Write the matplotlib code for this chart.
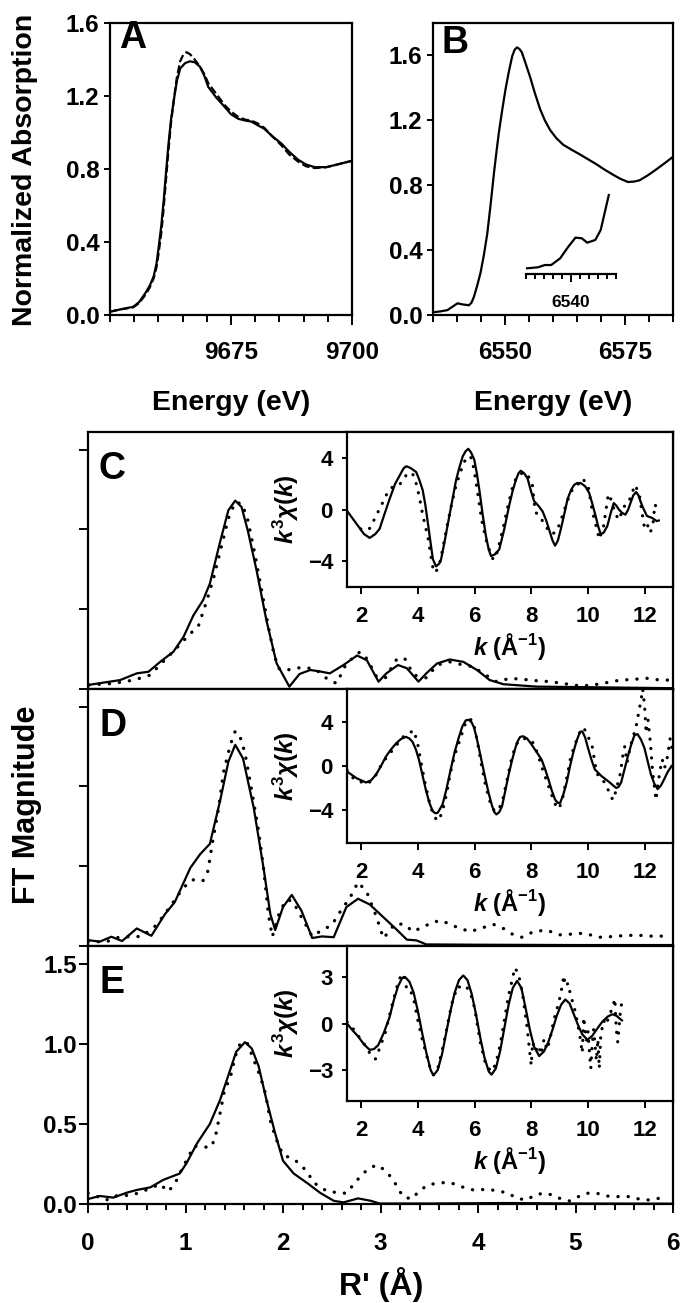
import matplotlib
matplotlib.use("Agg")
import matplotlib.pyplot as plt
from matplotlib.ticker import MultipleLocator, FormatStrFormatter, NullFormatter
import numpy as np

plt.rcParams['font.family'] = ['Liberation Sans', 'DejaVu Sans']
plt.rcParams['font.weight'] = 'bold'
plt.rcParams['mathtext.fontset'] = 'custom'
plt.rcParams['mathtext.rm'] = 'Liberation Sans:bold'
plt.rcParams['mathtext.it'] = 'Liberation Sans:italic:bold'
plt.rcParams['mathtext.bf'] = 'Liberation Sans:bold'

# ---------------- Panel A : XANES (9650-9700 eV) ----------------
a_energy = [9650, 9652, 9654.8, 9656, 9657.3, 9658.2, 9659.0, 9659.6, 9660.0, 9660.6,
            9661.1, 9661.6, 9662.1, 9662.6, 9663.2, 9663.8, 9664.5, 9665.5, 9666.5, 9667.5,
            9668.6, 9669.5, 9670.3, 9672, 9673.7, 9675, 9676.5, 9678, 9679.2, 9680.5,
            9681.9, 9683.5, 9685.4, 9687, 9688.9, 9690.5, 9692.3, 9694.7, 9697, 9700]
a_solid = [0.018, 0.03, 0.045, 0.07, 0.12, 0.16, 0.21, 0.28, 0.36, 0.49,
           0.63, 0.79, 0.94, 1.07, 1.18, 1.28, 1.35, 1.38, 1.39, 1.385,
           1.36, 1.31, 1.25, 1.19, 1.14, 1.10, 1.075, 1.065, 1.06, 1.04,
           1.02, 0.98, 0.94, 0.895, 0.85, 0.825, 0.81, 0.81, 0.825, 0.845]
a_energy_d = [9650, 9652, 9654.8, 9656, 9657.3, 9658.2, 9659.0, 9659.6, 9660.0, 9660.6,
              9661.1, 9661.6, 9662.1, 9662.6, 9663.2, 9663.8, 9664.5, 9665.2, 9665.8, 9666.5,
              9667.5, 9668.6, 9669.5, 9670.3, 9672, 9673.7, 9675, 9676.5, 9678, 9679.2,
              9680.5, 9681.9, 9683.5, 9685.4, 9687, 9688.9, 9690.5, 9692.3, 9694.7, 9697, 9700]
a_dashed = [0.018, 0.03, 0.042, 0.065, 0.11, 0.15, 0.20, 0.26, 0.33, 0.45,
            0.59, 0.75, 0.91, 1.05, 1.18, 1.30, 1.39, 1.43, 1.44, 1.43,
            1.40, 1.36, 1.32, 1.27, 1.21, 1.15, 1.115, 1.085, 1.07, 1.065,
            1.05, 1.025, 0.98, 0.93, 0.88, 0.84, 0.815, 0.805, 0.81, 0.825, 0.845]

# ---------------- Panel B : XANES (6535-6585 eV) ----------------
b_energy = [6535, 6536.5, 6538.0, 6539.0, 6540.1, 6541.2, 6542.5, 6543.0, 6543.5, 6544.2,
            6544.9, 6545.6, 6546.3, 6547.0, 6547.7, 6548.2, 6548.7, 6549.4, 6550.1, 6550.8,
            6551.5, 6552.0, 6552.5, 6553.0, 6553.5, 6554.3, 6555.2, 6556.2, 6557.3, 6558.3,
            6559.4, 6560.7, 6562.1, 6563.8, 6565.6, 6567.3, 6569.0, 6570.8, 6572.5, 6574,
            6575.6, 6576.8, 6578.0, 6579.7, 6581.4, 6583, 6585]
b_abs = [0.017, 0.022, 0.03, 0.05, 0.072, 0.065, 0.06, 0.075, 0.11, 0.18,
         0.26, 0.37, 0.50, 0.68, 0.875, 1.0, 1.12, 1.26, 1.39, 1.50,
         1.595, 1.635, 1.65, 1.64, 1.62, 1.55, 1.47, 1.37, 1.27, 1.20,
         1.14, 1.09, 1.05, 1.02, 0.99, 0.96, 0.93, 0.895, 0.865, 0.84,
         0.82, 0.822, 0.83, 0.86, 0.895, 0.93, 0.975]
# pre-edge inset (scaled)
b_pre_energy = [6535.0, 6536.3, 6537.1, 6537.8, 6538.8, 6539.7, 6540.5, 6541.2, 6541.8,
                6542.7, 6543.3, 6543.6, 6544.2]
b_pre_abs = [0.067, 0.079, 0.107, 0.107, 0.187, 0.325, 0.433, 0.425, 0.373,
             0.405, 0.524, 0.663, 0.94]

# ---------------- FT panels C, D, E ----------------
c_r = [0.0, 0.33, 0.50, 0.62, 0.74, 0.875, 0.98, 1.08, 1.18, 1.25, 1.35, 1.44, 1.51, 1.575,
       1.64, 1.73, 1.83, 1.935, 2.065, 2.17, 2.28, 2.38, 2.48, 2.62, 2.76, 2.86, 2.98, 3.06,
       3.18, 3.27, 3.39, 3.47, 3.58, 3.71, 3.85, 3.99, 4.12, 4.26, 4.6, 5.3, 6.0]
c_ft = [0.025, 0.056, 0.098, 0.108, 0.17, 0.233, 0.327, 0.46, 0.556, 0.66, 0.91, 1.12, 1.18, 1.14,
        0.99, 0.74, 0.43, 0.16, 0.015, 0.094, 0.119, 0.11, 0.098, 0.15, 0.21, 0.18, 0.046, 0.098,
        0.15, 0.13, 0.046, 0.098, 0.16, 0.185, 0.17, 0.119, 0.056, 0.03, 0.015, 0.01, 0.005]
c_r_fit = [0.01, 0.26, 0.47, 0.64, 0.72, 0.89, 1.05, 1.13, 1.22, 1.29, 1.355, 1.44, 1.51, 1.58,
           1.64, 1.71, 1.78, 1.85, 1.90, 1.95, 2.02, 2.12, 2.21, 2.33, 2.46, 2.55, 2.65, 2.79,
           2.86, 2.96, 3.05, 3.17, 3.25, 3.34, 3.47, 3.58, 3.71, 3.85, 3.95, 4.05, 4.19, 4.33,
           4.47, 4.60, 4.74, 4.87, 5.05, 5.18, 5.32, 5.46, 5.59, 5.73, 5.87, 5.99]
c_ft_fit = [0.025, 0.035, 0.056, 0.0875, 0.14, 0.244, 0.348, 0.39, 0.556, 0.70, 0.86, 1.07, 1.17, 1.16,
            1.056, 0.85, 0.62, 0.39, 0.24, 0.13, 0.115, 0.13, 0.135, 0.125, 0.06, 0.035, 0.16, 0.233,
            0.19, 0.077, 0.07, 0.19, 0.19, 0.0875, 0.07, 0.15, 0.17, 0.15, 0.14, 0.098, 0.046, 0.067,
            0.06, 0.052, 0.046, 0.035, 0.019, 0.025, 0.04, 0.056, 0.06, 0.067, 0.056, 0.056]

d_r = [0.0, 0.12, 0.24, 0.35, 0.50, 0.65, 0.79, 0.89, 1.05, 1.15, 1.25, 1.355, 1.44, 1.51,
       1.59, 1.70, 1.80, 1.87, 1.92, 2.00, 2.09, 2.19, 2.30, 2.40, 2.52, 2.65, 2.77, 2.89,
       3.03, 3.17, 3.27, 3.37, 3.47, 4.0, 5.0, 6.0]
d_ft = [0.037, 0.027, 0.058, 0.031, 0.11, 0.064, 0.20, 0.275, 0.49, 0.575, 0.64, 0.91, 1.155, 1.26,
        1.175, 0.865, 0.49, 0.20, 0.10, 0.244, 0.32, 0.22, 0.05, 0.06, 0.055, 0.244, 0.296, 0.26,
        0.18, 0.10, 0.04, 0.035, 0.01, 0.008, 0.006, 0.006]
d_r_fit = [0.0, 0.19, 0.33, 0.45, 0.55, 0.70, 0.84, 0.96, 1.05, 1.12, 1.18, 1.23, 1.28, 1.34,
           1.39, 1.46, 1.51, 1.56, 1.61, 1.68, 1.75, 1.80, 1.85, 1.89, 1.97, 2.04, 2.10, 2.19,
           2.30, 2.40, 2.50, 2.57, 2.69, 2.77, 2.86, 2.96, 3.03, 3.15, 3.25, 3.33, 3.44, 3.54,
           3.63, 3.71, 3.82, 3.92, 4.05, 4.16, 4.26, 4.35, 4.45, 4.57, 4.70, 4.84, 4.98, 5.08,
           5.25, 5.35, 5.49, 5.63, 5.76, 5.97]
d_ft_fit = [0.027, 0.027, 0.058, 0.058, 0.06, 0.13, 0.244, 0.35, 0.41, 0.42, 0.41, 0.47, 0.66, 0.865,
            1.09, 1.26, 1.346, 1.31, 1.21, 0.97, 0.72, 0.49, 0.20, 0.058, 0.224, 0.29, 0.28, 0.18,
            0.06, 0.10, 0.13, 0.20, 0.306, 0.40, 0.337, 0.18, 0.048, 0.14, 0.135, 0.09, 0.12, 0.15,
            0.16, 0.135, 0.11, 0.09, 0.115, 0.135, 0.11, 0.075, 0.055, 0.09, 0.10, 0.07, 0.075, 0.08,
            0.055, 0.058, 0.065, 0.068, 0.062, 0.062]

e_r = [0.0, 0.12, 0.26, 0.40, 0.50, 0.64, 0.77, 0.94, 1.01, 1.12, 1.25, 1.355, 1.46, 1.52,
       1.61, 1.68, 1.75, 1.83, 1.92, 2.00, 2.11, 2.25, 2.38, 2.52, 2.62, 2.77, 2.9, 2.99,
       3.5, 4.3, 5.0, 6.0]
e_ft = [0.031, 0.05, 0.04, 0.071, 0.0875, 0.104, 0.15, 0.19, 0.254, 0.38, 0.50, 0.65, 0.84, 0.95,
        1.01, 0.97, 0.86, 0.65, 0.44, 0.27, 0.19, 0.13, 0.07, 0.02, 0.01, 0.035, 0.02, 0.003,
        0.003, 0.006, 0.003, 0.002]
e_r_fit = [0.0, 0.19, 0.26, 0.45, 0.55, 0.65, 0.74, 0.82, 0.89, 0.98, 1.03, 1.08, 1.17, 1.25,
           1.30, 1.355, 1.40, 1.46, 1.51, 1.56, 1.63, 1.70, 1.77, 1.82, 1.87, 1.92, 2.00, 2.11,
           2.19, 2.26, 2.31, 2.45, 2.57, 2.65, 2.72, 2.79, 2.87, 2.96, 3.05, 3.13, 3.23, 3.32,
           3.40, 3.49, 3.59, 3.68, 3.76, 3.85, 3.95, 4.04, 4.12, 4.22, 4.31, 4.40, 4.50, 4.58,
           4.67, 4.77, 4.86, 4.94, 5.03, 5.11, 5.22, 5.32, 5.40, 5.49, 5.57, 5.66, 5.76, 5.85, 5.95]
e_ft_fit = [0.067, 0.025, 0.05, 0.055, 0.077, 0.10, 0.125, 0.077, 0.125, 0.24, 0.29, 0.36, 0.36, 0.35,
            0.40, 0.567, 0.71, 0.79, 0.92, 1.00, 1.01, 0.90, 0.79, 0.69, 0.52, 0.42, 0.306, 0.28,
            0.24, 0.19, 0.135, 0.08, 0.07, 0.067, 0.119, 0.17, 0.217, 0.244, 0.21, 0.15, 0.046, 0.031,
            0.083, 0.12, 0.13, 0.135, 0.125, 0.104, 0.088, 0.09, 0.09, 0.08, 0.067, 0.035, 0.025, 0.056,
            0.067, 0.056, 0.029, 0.019, 0.046, 0.067, 0.067, 0.05, 0.046, 0.046, 0.046, 0.029, 0.025,
            0.035, 0.04]

# ---------------- EXAFS insets ----------------
c_k = [1.5, 1.7, 1.9, 2.1, 2.3, 2.5, 2.65, 2.8, 3.0, 3.2, 3.35, 3.5, 3.6, 3.75, 3.94, 4.05, 4.17,
       4.26, 4.35, 4.45, 4.53, 4.64, 4.75, 4.82, 4.95, 5.11, 5.23, 5.35, 5.47, 5.58, 5.68, 5.78,
       5.88, 5.99, 6.08, 6.17, 6.28, 6.4, 6.5, 6.58, 6.7, 6.87, 7.05, 7.22, 7.35, 7.46, 7.55, 7.63,
       7.75, 7.87, 7.98, 8.1, 8.25, 8.4, 8.52, 8.63, 8.75, 8.84, 8.94, 9.04, 9.16, 9.28, 9.4, 9.51,
       9.62, 9.74, 9.9, 10.04, 10.16, 10.27, 10.36, 10.45, 10.55, 10.68, 10.8, 10.91, 11.0, 11.09,
       11.2, 11.32, 11.42, 11.5, 11.6, 11.7, 11.78, 11.85, 11.95, 12.08, 12.26, 12.43, 12.5]
c_chi = [-0.1, -0.7, -1.3, -1.9, -2.2, -1.9, -1.5, -0.5, 0.8, 2.0, 2.6, 3.2, 3.35, 3.2, 2.9, 2.3, 1.5,
         0.4, -1.0, -2.6, -3.85, -4.4, -4.2, -3.85, -2.4, -0.5, 0.9, 2.3, 3.3, 4.1, 4.5, 4.7,
         4.4, 3.85, 2.8, 1.5, -0.3, -2.05, -3.1, -3.6, -3.5, -3.1, -1.5, 0.3, 1.5, 2.3, 2.8, 3.0,
         2.8, 2.4, 1.5, 0.65, 0.3, -0.15, -0.8, -1.55, -2.4, -2.8, -2.4, -1.55, -0.4, 0.8, 1.5, 1.9,
         2.05, 2.05, 1.8, 1.3, 0.4, -0.5, -1.3, -1.9, -1.8, -1.3, -0.3, 0.5, 0.3, 0.0,
         -0.25, -0.4, 0.0, 0.5, 1.1, 1.35, 1.1, 0.65, 0.1, -0.5, -0.65, -0.9, -0.85]
c_k_fit = [1.98, 2.15, 2.31, 2.5, 2.73, 2.97, 3.17, 3.38, 3.5, 3.64, 3.81, 3.93, 4.05, 4.17, 4.36,
           4.45, 4.53, 4.63, 4.7, 4.79, 4.95, 5.15, 5.35, 5.55, 5.72, 5.89, 5.97, 6.06, 6.25, 6.4,
           6.5, 6.66, 6.8, 7.0, 7.2, 7.35, 7.5, 7.67, 7.85, 8.04, 8.14, 8.3, 8.5, 8.73, 8.9, 9.05,
           9.22, 9.4, 9.57, 9.8, 10.0, 10.16, 10.28, 10.4, 10.55, 10.72, 10.85, 10.95, 11.1, 11.25,
           11.4, 11.55, 11.65, 11.8, 11.94, 12.0, 12.1, 12.2, 12.3, 12.36, 12.43]
c_chi_fit = [-1.5, -1.6, -1.45, -0.6, 0.4, 1.5, 1.85, 2.0, 2.4, 2.8, 2.8, 2.1, 1.0, -0.4, -2.2,
             -3.5, -4.5, -4.9, -4.5, -4.0, -2.2, 0.0, 1.9, 3.2, 4.1, 4.0, 3.2, 2.0, -0.8, -2.3,
             -3.0, -3.9, -3.3, -1.5, 0.5, 1.8, 2.6, 2.8, 2.8, 1.9, -0.2, -0.5, -1.3, -1.9, -1.7, -0.8,
             0.3, 1.4, 1.7, 2.4, 1.9, -0.2, -1.2, -2.3, -1.3, 1.2, 0.6, -0.3, -0.8, 0.2,
             0.4, 1.2, 1.9, 1.3, -0.7, -1.5, -1.2, -1.8, -1.0, 0.4, 0.1]

d_k = [1.5, 1.83, 2.17, 2.35, 2.52, 2.7, 2.87, 3.05, 3.23, 3.4, 3.58, 3.7, 3.81, 3.93, 4.04, 4.16,
       4.28, 4.4, 4.52, 4.62, 4.7, 4.87, 5.0, 5.16, 5.3, 5.45, 5.57, 5.69, 5.8, 5.9, 5.98, 6.06,
       6.15, 6.27, 6.39, 6.5, 6.62, 6.7, 6.77, 6.87, 6.97, 7.08, 7.2, 7.32, 7.44, 7.53, 7.61, 7.72,
       7.85, 8.0, 8.14, 8.26, 8.37, 8.49, 8.61, 8.72, 8.84, 8.93, 9.02, 9.13, 9.25, 9.36, 9.48,
       9.6, 9.72, 9.8, 9.9, 10.0, 10.12, 10.24, 10.47, 10.77, 10.9, 11.0, 11.08, 11.17, 11.28,
       11.4, 11.52, 11.64, 11.75, 11.87, 11.99, 12.1, 12.22, 12.34, 12.46, 12.57, 12.69, 12.8, 12.95]
d_chi = [-0.5, -1.1, -1.5, -1.3, -0.8, 0.0, 0.85, 1.5, 2.05, 2.45, 2.65, 2.5, 2.2, 1.5, 0.55, -0.8,
         -2.15, -3.3, -4.1, -4.3, -4.25, -3.5, -2.2, -0.3, 1.3, 2.65, 3.6, 4.15, 4.2, 3.95, 3.5, 2.7,
         1.65, 0.2, -1.25, -2.5, -3.65, -4.2, -4.4, -4.2, -3.65, -2.3, -0.8, 0.5, 1.65, 2.3, 2.65, 2.7,
         2.5, 2.0, 1.45, 1.0, 0.55, -0.3, -1.25, -2.2, -3.05, -3.35, -3.35, -2.6, -1.5, -0.1, 1.2,
         2.3, 3.1, 3.15, 2.6, 1.65, 0.6, -0.3, -0.9, -1.5, -1.8, -2.0, -1.9, -1.5, -0.4,
         0.8, 1.9, 2.8, 2.9, 2.4, 1.65, 0.5, -0.75, -1.6, -2.1, -1.8, -1.2, -0.6, 0.0]
d_k_fit = [1.5, 1.75, 2.05, 2.25, 2.5, 2.75, 3.0, 3.25, 3.45, 3.65, 3.85, 3.98, 4.1, 4.25, 4.4,
           4.55, 4.7, 4.85, 5.0, 5.15, 5.3, 5.5, 5.65, 5.8, 5.95, 6.1, 6.25, 6.4, 6.55, 6.7, 6.85,
           7.0, 7.15, 7.3, 7.45, 7.6, 7.8, 7.95, 8.1, 8.25, 8.4, 8.55, 8.7, 8.85, 8.98, 9.1, 9.25,
           9.4, 9.55, 9.7, 9.85, 10.0, 10.15, 10.3, 10.45, 10.6, 10.75, 10.88, 10.95, 11.05, 11.15,
           11.22, 11.3, 11.38, 11.45, 11.55, 11.7, 11.8, 11.88, 11.93, 12.0, 12.05, 12.12, 12.2,
           12.28, 12.35, 12.4, 12.47, 12.55, 12.62, 12.7, 12.8, 12.9, 12.97]
d_chi_fit = [-0.4, -1.2, -1.5, -1.6, -0.9, 0.3, 1.1, 1.9, 2.6, 2.9, 3.25, 2.2, 0.5, -1.5, -3.2,
             -4.5, -5.0, -4.3, -2.7, -0.6, 1.0, 2.5, 3.7, 4.3, 4.1, 2.2, 0.0, -1.9, -3.3, -4.1, -4.0,
             -3.0, -1.2, 0.6, 1.9, 2.4, 2.5, 2.4, 2.0, 0.9, -0.3, -1.4, -2.5, -3.5, -3.9, -3.0, -1.1,
             0.9, 2.0, 3.0, 3.5, 2.7, 1.8, -0.6, -1.2, -1.5, -2.4, -3.1, -2.6, -1.6, -0.6,
             0.8, 1.8, 0.3, 1.2, 2.3, 3.6, 5.0, 6.1, 7.0, 5.4, 3.0, 4.2, 2.2,
             -0.5, -2.0, -3.1, -1.6, -0.3, 0.6, -0.2, 0.8, 2.5, 1.5]

e_k = [1.5, 1.7, 1.9, 2.1, 2.3, 2.45, 2.6, 2.8, 3.0, 3.15, 3.3, 3.45, 3.55, 3.7, 3.85, 4.0, 4.15,
       4.3, 4.45, 4.55, 4.7, 4.85, 5.0, 5.15, 5.3, 5.45, 5.6, 5.75, 5.9, 6.05, 6.2, 6.35, 6.5,
       6.6, 6.75, 6.9, 7.05, 7.2, 7.35, 7.5, 7.65, 7.8, 7.95, 8.1, 8.28, 8.45, 8.6, 8.75, 8.9,
       9.05, 9.2, 9.35, 9.5, 9.65, 9.8, 9.98, 10.15, 10.3, 10.5, 10.7, 10.86, 11.0, 11.2]
e_chi = [0.0, -0.45, -0.85, -1.35, -1.7, -1.65, -1.4, -0.6, 0.4, 1.5, 2.4, 2.95, 3.0, 2.7, 2.0, 0.8,
         -0.6, -1.9, -3.0, -3.35, -3.0, -2.0, -0.6, 0.8, 2.0, 2.8, 3.1, 2.8, 1.9, 0.6, -0.9, -2.2,
         -3.1, -3.3, -2.9, -1.8, -0.3, 1.2, 2.3, 2.75, 2.3, 1.0, -0.4, -1.5, -2.1, -1.8, -1.2, -0.4,
         0.5, 1.2, 1.55, 1.3, 0.6, -0.1, -0.7, -1.05, -0.8, -0.4, 0.1, 0.45, 0.6, 0.5, 0.2]
e_k_fit = [1.5, 1.7, 1.9, 2.1, 2.3, 2.5, 2.65, 2.85, 3.05, 3.25, 3.4, 3.5, 3.6, 3.7, 3.85, 4.0,
           4.15, 4.3, 4.45, 4.55, 4.7, 4.85, 5.0, 5.2, 5.4, 5.55, 5.7, 5.85, 6.0, 6.2, 6.4, 6.6,
           6.75, 6.9, 7.05, 7.2, 7.35, 7.42, 7.55, 7.7, 7.85, 7.95, 8.0, 8.05, 8.15, 8.25, 8.35,
           8.45, 8.55, 8.65, 8.75, 8.85, 8.95, 9.05, 9.15, 9.2, 9.3, 9.4, 9.5, 9.6, 9.7, 9.8, 9.85,
           9.95, 10.0, 10.05, 10.1, 10.15, 10.2, 10.3, 10.35, 10.4, 10.45, 10.55, 10.65, 10.75,
           10.85, 10.95, 11.0, 11.05, 11.15, 11.2]
e_chi_fit = [0.1, -0.3, -0.8, -1.3, -1.9, -2.3, -1.6, -0.6, 0.9, 2.3, 3.1, 3.2, 2.3, 2.3, 1.6, 0.2,
             -1.0, -2.0, -3.0, -3.3, -2.9, -1.8, -0.5, 1.3, 2.4, 2.3, 2.4, 2.0, 1.0, -1.2, -2.7, -3.1,
             -2.6, -1.4, 0.2, 1.8, 3.0, 3.6, 3.2, 1.8, -0.2, -1.9, -2.7, -1.2, -1.8, -1.4, -2.0,
             -1.0, -1.7, -1.1, -0.2, 0.6, 1.2, 2.0, 3.1, 2.4, 2.6, 1.7, 1.2, 0.3, -0.6, -1.9, 0.4,
             -1.1, -0.5, -1.8, -2.9, -1.3, -0.4, -2.4, -1.0, -2.9, -0.8, 0.2, -0.1, 0.6,
             0.9, 1.6, -0.4, -1.2, 0.9, 1.4]

a_xticks = [9675, 9700]
b_xticks = [6550, 6575]
abs_yticks = [0.0, 0.4, 0.8, 1.2, 1.6]
ft_xticks = [0, 1, 2, 3, 4, 5, 6]
ft_yticks = [0.0, 0.5, 1.0, 1.5]
k_ticks = [2, 4, 6, 8, 10, 12]

# ---------------- layout helpers ----------------
W, H = 682, 1303
fig = plt.figure(figsize=(W / 100, H / 100), dpi=100)


def ax_px(l, t, r, b):
    return fig.add_axes([l / W, 1 - b / H, (r - l) / W, (b - t) / H])


def ftxt(x, y, s, **kw):
    return fig.text(x / W, 1 - y / H, s, **kw)


LW = 1.6
TICK_FS = 17.5
ITICK_FS = 16
DOT = dict(color='k', lw=2.4, linestyle=(0, (0.05, 3.0)), dash_capstyle='round')


def style(ax, lw=1.6):
    for sp in ax.spines.values():
        sp.set_linewidth(lw)
    ax.tick_params(which='both', direction='out', width=1.4, color='k')


# ---------------- Panel A ----------------
axA = ax_px(110, 23, 352, 315)
style(axA)
axA.plot(a_energy, a_solid, color='k', lw=LW)
axA.plot(a_energy_d, a_dashed, color='k', lw=LW, dashes=(3.5, 1.5))
axA.set_xlim(9650, 9700)
axA.set_ylim(0, 1.6)
axA.set_xticks(a_xticks)
axA.xaxis.set_minor_locator(MultipleLocator(5))
axA.set_yticks(abs_yticks)
axA.yaxis.set_major_formatter(FormatStrFormatter('%.1f'))
axA.tick_params(axis='x', which='major', length=7.5, pad=11.5, labelsize=TICK_FS)
axA.tick_params(axis='x', which='minor', length=5)
axA.tick_params(axis='y', length=4, pad=3.5, labelsize=TICK_FS)
ftxt(119, 20, 'A', fontsize=27, fontweight='bold', va='top', ha='left')

# ---------------- Panel B ----------------
axB = ax_px(433, 23, 673, 315)
style(axB)
axB.plot(b_energy, b_abs, color='k', lw=LW)
axB.set_xlim(6535, 6585)
axB.set_ylim(0, 1.8)
axB.set_xticks(b_xticks)
axB.xaxis.set_minor_locator(MultipleLocator(5))
axB.set_yticks(abs_yticks)
axB.yaxis.set_major_formatter(FormatStrFormatter('%.1f'))
axB.tick_params(axis='x', which='major', length=7.5, pad=11.5, labelsize=TICK_FS)
axB.tick_params(axis='x', which='minor', length=5)
axB.tick_params(axis='y', length=4, pad=3.5, labelsize=TICK_FS)
ftxt(441, 25, 'B', fontsize=27, fontweight='bold', va='top', ha='left')

# pre-edge inset
axBi = ax_px(526, 190, 616, 274)
axBi.patch.set_alpha(0)
for s in ('left', 'right', 'top'):
    axBi.spines[s].set_visible(False)
axBi.spines['bottom'].set_linewidth(1.6)
axBi.plot(b_pre_energy, b_pre_abs, color='k', lw=LW)
axBi.set_xlim(6535, 6545)
axBi.set_ylim(0, 1)
axBi.set_yticks([])
axBi.set_xticks([6540])
axBi.xaxis.set_minor_locator(MultipleLocator(1))
axBi.tick_params(axis='x', which='major', direction='out', length=6, width=1.4, pad=9, labelsize=12.5)
axBi.tick_params(axis='x', which='minor', direction='out', length=3.5, width=1.4)

ftxt(25, 170, 'Normalized Absorption', rotation=90, fontsize=20.5, ha='center', va='center')
ftxt(231, 403, 'Energy (eV)', fontsize=20.5, ha='center', va='center')
ftxt(553, 403, 'Energy (eV)', fontsize=20.5, ha='center', va='center')

# ---------------- FT panels ----------------
ft_specs = [
    ('C', 432, 689, c_r, c_ft, c_r_fit, c_ft_fit, c_k, c_chi, c_k_fit, c_chi_fit, 587, 6, [-4, 0, 4]),
    ('D', 689, 946, d_r, d_ft, d_r_fit, d_ft_fit, d_k, d_chi, d_k_fit, d_chi_fit, 843, 7, [-4, 0, 4]),
    ('E', 946, 1204, e_r, e_ft, e_r_fit, e_ft_fit, e_k, e_chi, e_k_fit, e_chi_fit, 1101, 5, [-3, 0, 3]),
]
for (lab, top, bot, r, ft, rf, ftf, kk, chi, kf, chif, ibot, ylimv, iyt) in ft_specs:
    ax = ax_px(88, top, 673, bot)
    style(ax)
    ax.plot(r, ft, color='k', lw=LW)
    ax.plot(rf, ftf, **DOT)
    ax.set_xlim(0, 6)
    ax.set_ylim(0, 1.61)
    ax.set_yticks(ft_yticks)
    ax.tick_params(axis='y', length=6.5, pad=1.5, labelsize=TICK_FS)
    if lab == 'E':
        ax.set_xticks(ft_xticks)
        ax.xaxis.set_minor_locator(MultipleLocator(0.2))
        ax.tick_params(axis='x', which='major', length=6.5, pad=13.5, labelsize=TICK_FS)
        ax.tick_params(axis='x', which='minor', length=4.3)
        ax.yaxis.set_major_formatter(FormatStrFormatter('%.1f'))
    else:
        ax.set_xticks([])
        ax.yaxis.set_major_formatter(NullFormatter())
    ftxt(99, top + 19, lab, fontsize=27, fontweight='bold', va='top', ha='left')

    axi = ax_px(347, top, 673, ibot)
    axi.set_facecolor('white')
    style(axi)
    axi.plot(kk, chi, color='k', lw=LW)
    axi.plot(kf, chif, color='k', lw=2.3, linestyle=(0, (0.05, 2.9)), dash_capstyle='round')
    axi.set_xlim(1.5, 13)
    axi.set_ylim(-ylimv, ylimv)
    axi.set_xticks(k_ticks)
    axi.set_yticks(iyt)
    axi.tick_params(axis='x', length=5, pad=9, labelsize=ITICK_FS)
    axi.tick_params(axis='y', length=3.6, pad=6.5, labelsize=ITICK_FS)
    ftxt(510, ibot + 59, r'$k$ (Å$^{-1}$)', fontsize=17, ha='center', va='center')
    ftxt(286, (top + ibot) / 2, r'$k^{3}\chi(k)$', fontsize=17.5, rotation=90, ha='center', va='center')

ftxt(27, 805, 'FT Magnitude', rotation=90, fontsize=22, ha='center', va='center')
ftxt(381, 1285, "R' (Å)", fontsize=23, ha='center', va='center')

fig.savefig('out.png', dpi=100)
